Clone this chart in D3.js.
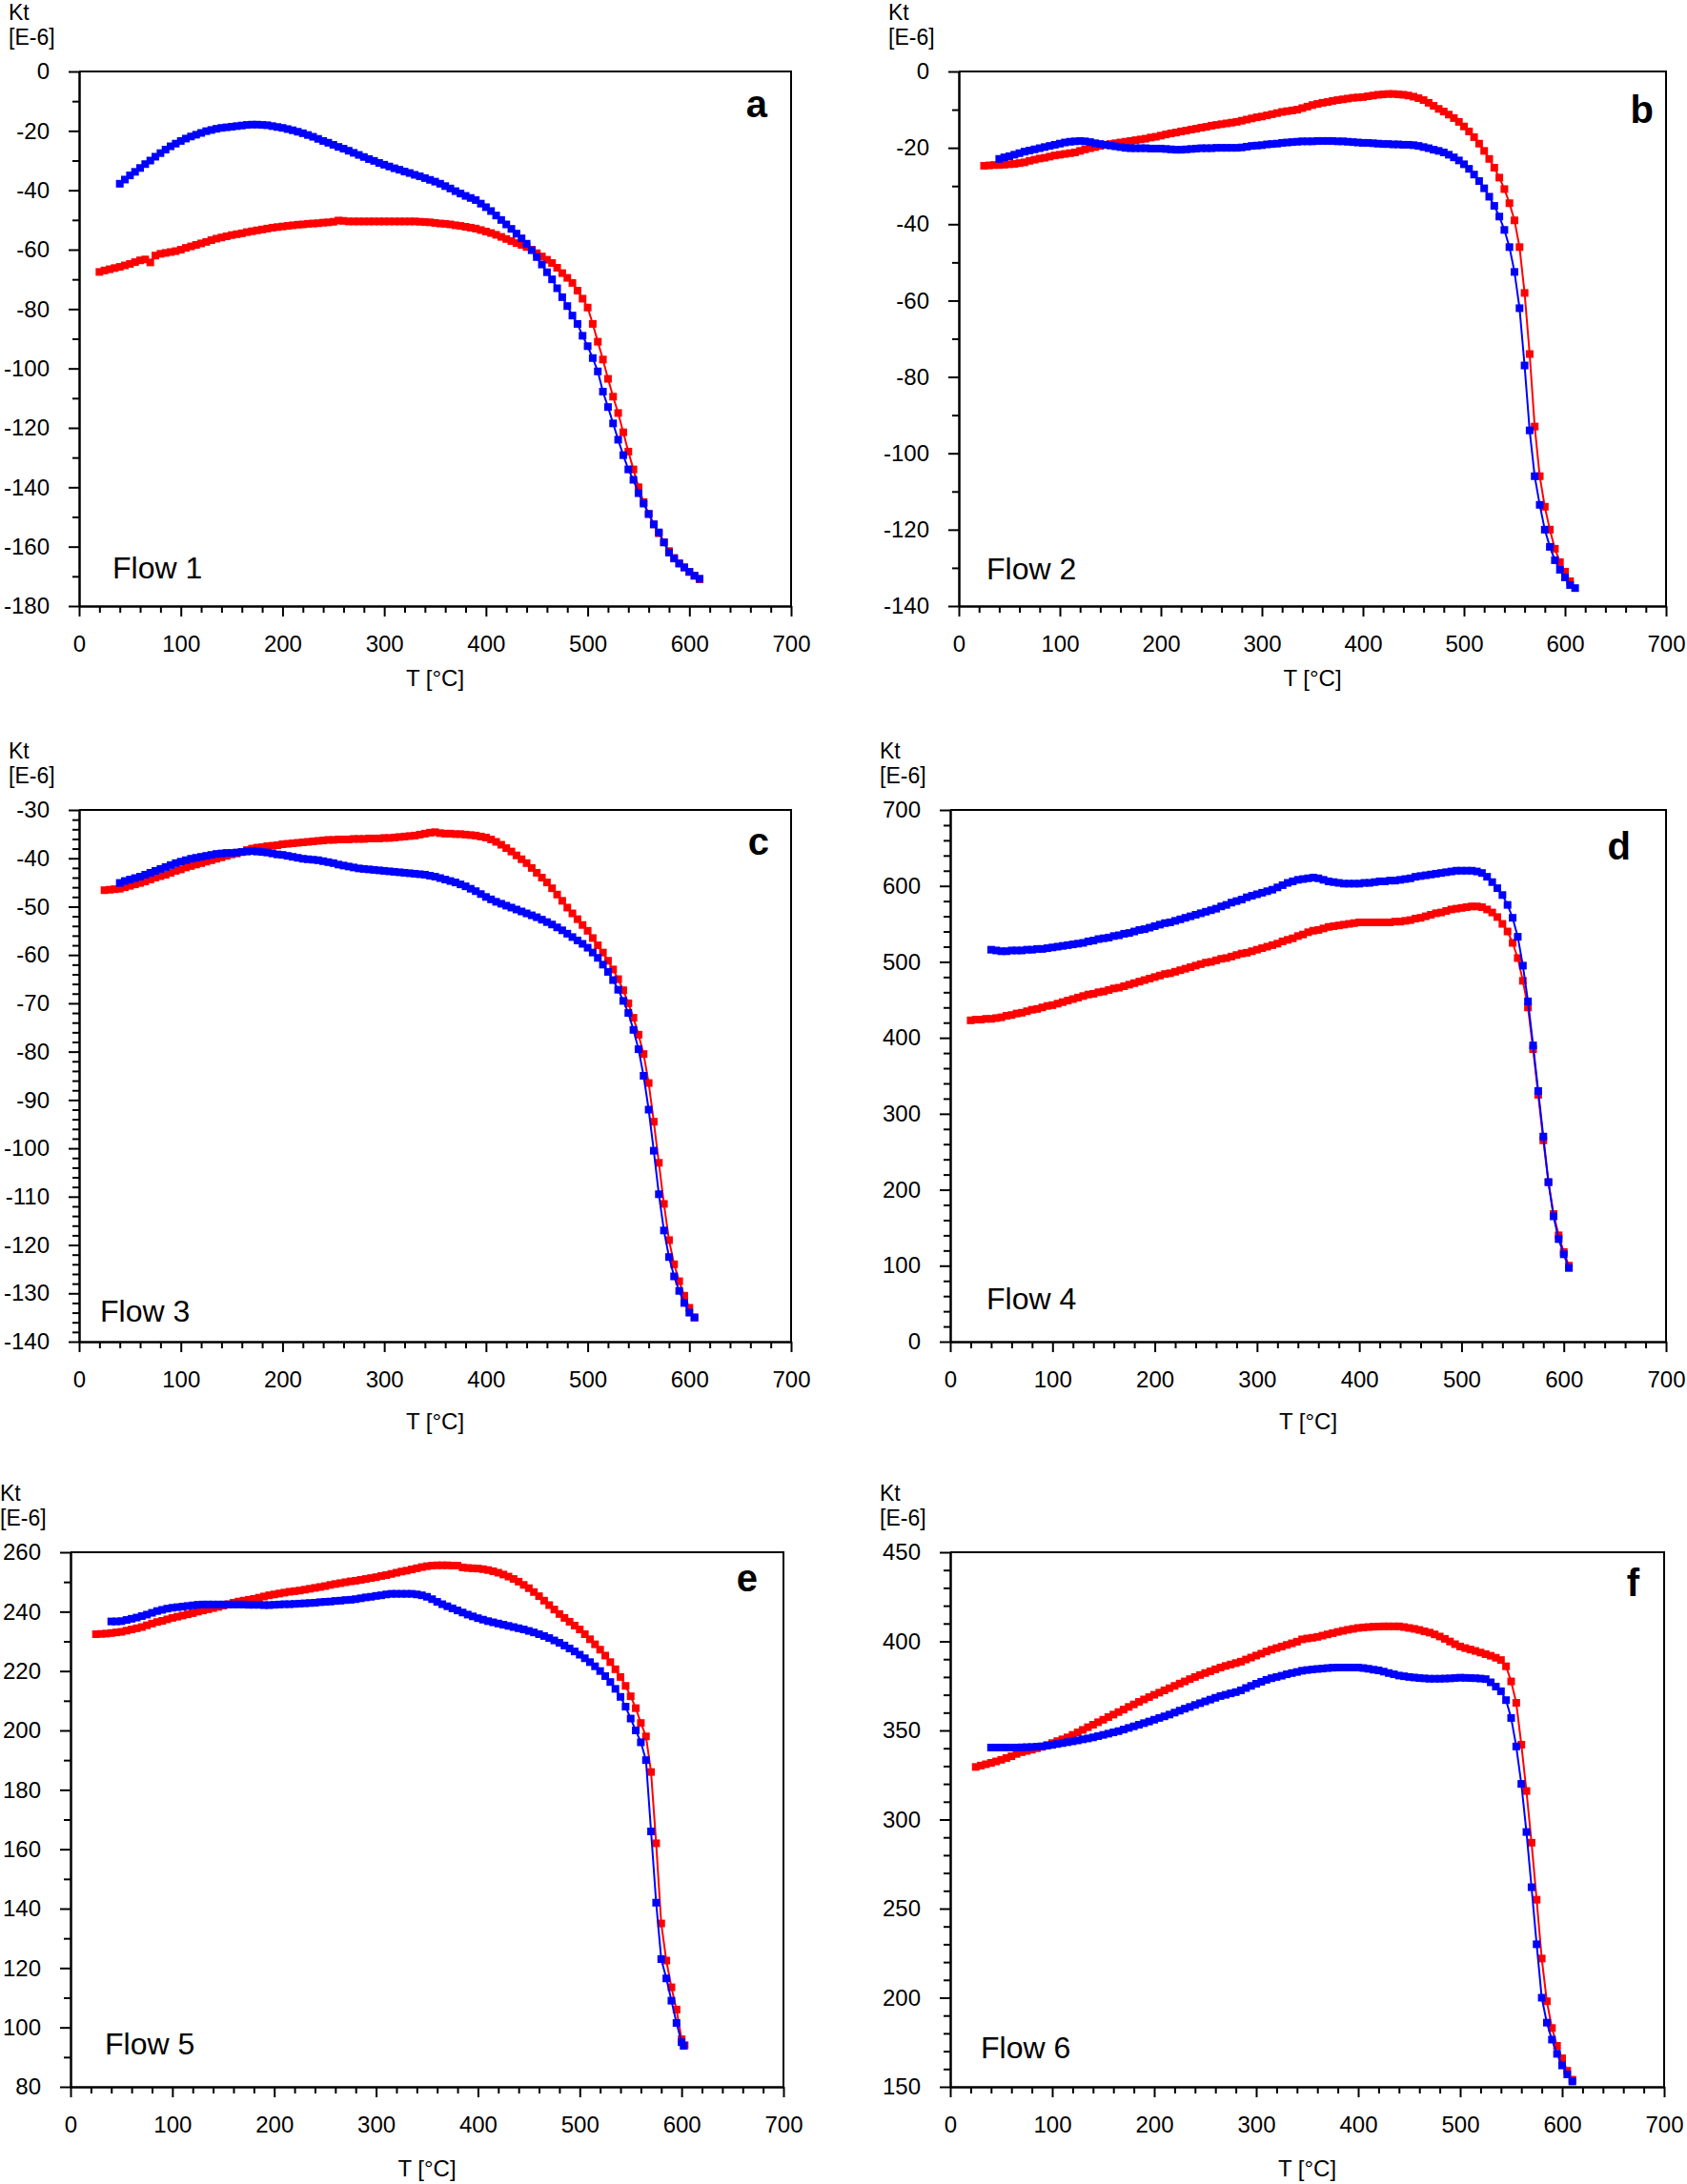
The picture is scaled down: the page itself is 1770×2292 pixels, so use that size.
<!DOCTYPE html>
<html><head><meta charset="utf-8">
<script src="https://cdn.jsdelivr.net/npm/d3@7"></script>
<style>body{margin:0;background:#fff}</style>
</head><body><svg id="chart" width="1770" height="2292" style="display:block;background:#fff"></svg>
<script>
// ---------- text / ticks ----------
const xTicks = [0,100,200,300,400,500,600,700];
const yTicksA = [-180,-160,-140,-120,-100,-80,-60,-40,-20,0];
const yTicksB = [-140,-120,-100,-80,-60,-40,-20,0];
const yTicksC = [-140,-130,-120,-110,-100,-90,-80,-70,-60,-50,-40,-30];
const yTicksD = [0,100,200,300,400,500,600,700];
const yTicksE = [80,100,120,140,160,180,200,220,240,260];
const yTicksF = [150,200,250,300,350,400,450];
const panelLetters = ['a','b','c','d','e','f'];
const flowLabels = ['Flow 1','Flow 2','Flow 3','Flow 4','Flow 5','Flow 6'];
const yTitleTop = 'Kt', yTitleBottom = '[E-6]', xTitle = 'T [°C]';

// ---------- data: [T, Kt] ----------
const a_red = [[20,-67.5],[25,-67.0],[30,-66.6],[35,-66.2],[40,-65.8],[45,-65.3],[50,-64.8],[55,-64.2],[60,-63.6],[65,-63.3],[70,-64.3],[75,-62.0],[80,-61.4],[85,-61.1],[90,-60.8],[95,-60.5],[100,-60.0],[105,-59.4],[110,-58.9],[115,-58.4],[120,-57.9],[125,-57.4],[130,-56.8],[135,-56.3],[140,-55.9],[145,-55.5],[150,-55.1],[155,-54.8],[160,-54.5],[165,-54.1],[170,-53.8],[175,-53.5],[180,-53.2],[185,-52.9],[190,-52.6],[195,-52.4],[200,-52.2],[205,-52.0],[210,-51.8],[215,-51.6],[220,-51.5],[225,-51.3],[230,-51.2],[235,-51.1],[240,-50.9],[245,-50.8],[250,-50.6],[255,-50.2],[260,-50.3],[265,-50.5],[270,-50.5],[275,-50.5],[280,-50.5],[285,-50.5],[290,-50.5],[295,-50.5],[300,-50.5],[305,-50.5],[310,-50.5],[315,-50.5],[320,-50.5],[325,-50.5],[330,-50.5],[335,-50.6],[340,-50.7],[345,-50.8],[350,-51.0],[355,-51.2],[360,-51.3],[365,-51.5],[370,-51.8],[375,-52.0],[380,-52.3],[385,-52.6],[390,-52.9],[395,-53.4],[400,-53.9],[405,-54.4],[410,-55.0],[415,-55.7],[420,-56.4],[425,-57.1],[430,-57.8],[435,-58.4],[440,-59.1],[445,-60.0],[450,-61.2],[455,-62.3],[460,-63.4],[465,-64.5],[470,-66.1],[475,-67.9],[480,-69.5],[485,-71.2],[490,-73.8],[495,-76.5],[500,-79.5],[505,-85.0],[510,-91.0],[515,-97.0],[520,-103.5],[525,-109.5],[530,-115.0],[535,-121.5],[540,-128.0],[545,-134.0],[550,-140.0],[555,-145.0],[560,-149.0],[565,-152.5],[570,-155.5],[575,-158.5],[580,-161.5],[585,-163.8],[590,-165.6],[595,-167.0],[600,-168.5],[605,-169.8],[610,-171.0]];
const a_blue = [[40,-37.8],[45,-36.4],[50,-35.0],[55,-33.8],[60,-32.5],[65,-31.2],[70,-30.0],[75,-28.7],[80,-27.5],[85,-26.3],[90,-25.2],[95,-24.3],[100,-23.4],[105,-22.6],[110,-21.9],[115,-21.3],[120,-20.7],[125,-20.1],[130,-19.7],[135,-19.3],[140,-19.0],[145,-18.8],[150,-18.6],[155,-18.4],[160,-18.2],[165,-18.0],[170,-17.9],[175,-17.9],[180,-18.0],[185,-18.1],[190,-18.4],[195,-18.7],[200,-19.0],[205,-19.4],[210,-19.8],[215,-20.3],[220,-20.8],[225,-21.4],[230,-22.0],[235,-22.7],[240,-23.4],[245,-24.0],[250,-24.7],[255,-25.4],[260,-26.0],[265,-26.7],[270,-27.4],[275,-28.1],[280,-28.8],[285,-29.5],[290,-30.1],[295,-30.8],[300,-31.4],[305,-32.0],[310,-32.6],[315,-33.1],[320,-33.7],[325,-34.2],[330,-34.8],[335,-35.3],[340,-35.9],[345,-36.5],[350,-37.1],[355,-37.8],[360,-38.6],[365,-39.4],[370,-40.3],[375,-41.1],[380,-41.9],[385,-42.6],[390,-43.3],[395,-44.5],[400,-45.7],[405,-47.0],[410,-48.5],[415,-50.0],[420,-51.5],[425,-53.0],[430,-54.6],[435,-56.2],[440,-58.0],[445,-60.2],[450,-62.5],[455,-65.0],[460,-67.6],[465,-70.0],[470,-73.0],[475,-76.0],[480,-79.0],[485,-82.2],[490,-85.0],[495,-89.0],[500,-92.5],[505,-96.5],[510,-101.0],[515,-107.8],[520,-113.0],[525,-118.5],[530,-124.0],[535,-129.2],[540,-134.0],[545,-137.5],[550,-142.0],[555,-145.5],[560,-149.0],[565,-152.5],[570,-155.2],[575,-158.6],[580,-162.0],[585,-164.0],[590,-165.7],[595,-167.0],[600,-168.5],[605,-169.8],[610,-170.8]];

const b_red = [[25,-24.7],[30,-24.6],[35,-24.5],[40,-24.5],[45,-24.4],[50,-24.3],[55,-24.2],[60,-24.0],[65,-23.8],[70,-23.4],[75,-23.1],[80,-22.8],[85,-22.6],[90,-22.3],[95,-22.0],[100,-21.8],[105,-21.6],[110,-21.4],[115,-21.2],[120,-20.8],[125,-20.4],[130,-20.1],[135,-19.8],[140,-19.5],[145,-19.2],[150,-19.0],[155,-18.8],[160,-18.6],[165,-18.4],[170,-18.2],[175,-18.0],[180,-17.8],[185,-17.6],[190,-17.3],[195,-17.1],[200,-16.8],[205,-16.5],[210,-16.2],[215,-16.0],[220,-15.7],[225,-15.5],[230,-15.2],[235,-15.0],[240,-14.7],[245,-14.5],[250,-14.2],[255,-14.0],[260,-13.8],[265,-13.6],[270,-13.4],[275,-13.2],[280,-12.9],[285,-12.6],[290,-12.3],[295,-12.0],[300,-11.8],[305,-11.5],[310,-11.2],[315,-10.9],[320,-10.6],[325,-10.4],[330,-10.2],[335,-10.0],[340,-9.6],[345,-9.2],[350,-8.8],[355,-8.5],[360,-8.2],[365,-8.0],[370,-7.7],[375,-7.5],[380,-7.3],[385,-7.1],[390,-6.9],[395,-6.8],[400,-6.7],[405,-6.5],[410,-6.3],[415,-6.1],[420,-6.0],[425,-5.9],[430,-5.9],[435,-6.0],[440,-6.1],[445,-6.3],[450,-6.6],[455,-7.0],[460,-7.5],[465,-8.2],[470,-9.0],[475,-9.8],[480,-10.5],[485,-11.3],[490,-12.2],[495,-13.2],[500,-14.4],[505,-15.7],[510,-17.2],[515,-18.9],[520,-20.8],[525,-22.9],[530,-25.2],[535,-27.8],[540,-30.8],[545,-34.5],[550,-39.0],[555,-46.0],[560,-58.0],[565,-74.0],[570,-93.0],[575,-106.0],[580,-114.0],[585,-120.0],[590,-125.0],[595,-128.5],[600,-131.0],[605,-133.5]];
const b_blue = [[40,-22.9],[45,-22.5],[50,-22.2],[55,-21.8],[60,-21.4],[65,-21.0],[70,-20.7],[75,-20.4],[80,-20.1],[85,-19.8],[90,-19.5],[95,-19.2],[100,-18.9],[105,-18.6],[110,-18.4],[115,-18.3],[120,-18.2],[125,-18.3],[130,-18.5],[135,-18.8],[140,-19.0],[145,-19.2],[150,-19.4],[155,-19.6],[160,-19.8],[165,-20.0],[170,-20.1],[175,-20.1],[180,-20.1],[185,-20.1],[190,-20.2],[195,-20.2],[200,-20.2],[205,-20.3],[210,-20.4],[215,-20.5],[220,-20.5],[225,-20.4],[230,-20.3],[235,-20.2],[240,-20.1],[245,-20.1],[250,-20.1],[255,-20.0],[260,-20.0],[265,-20.0],[270,-20.0],[275,-20.0],[280,-19.9],[285,-19.7],[290,-19.5],[295,-19.4],[300,-19.3],[305,-19.1],[310,-19.0],[315,-18.9],[320,-18.7],[325,-18.6],[330,-18.5],[335,-18.4],[340,-18.3],[345,-18.3],[350,-18.3],[355,-18.2],[360,-18.2],[365,-18.2],[370,-18.2],[375,-18.3],[380,-18.3],[385,-18.4],[390,-18.5],[395,-18.6],[400,-18.7],[405,-18.7],[410,-18.8],[415,-18.9],[420,-19.0],[425,-19.0],[430,-19.1],[435,-19.1],[440,-19.2],[445,-19.2],[450,-19.3],[455,-19.5],[460,-19.8],[465,-20.1],[470,-20.5],[475,-20.8],[480,-21.2],[485,-21.8],[490,-22.5],[495,-23.3],[500,-24.3],[505,-25.5],[510,-27.0],[515,-28.7],[520,-30.6],[525,-32.8],[530,-35.2],[535,-38.0],[540,-41.5],[545,-46.0],[550,-52.5],[555,-62.0],[560,-77.0],[565,-94.0],[570,-106.0],[575,-113.5],[580,-120.0],[585,-124.5],[590,-128.0],[595,-130.5],[600,-132.5],[605,-134.5],[610,-135.3]];

const c_red = [[25,-46.6],[30,-46.5],[35,-46.4],[40,-46.3],[45,-46.0],[50,-45.7],[55,-45.4],[60,-45.1],[65,-44.8],[70,-44.4],[75,-44.0],[80,-43.7],[85,-43.4],[90,-43.0],[95,-42.6],[100,-42.3],[105,-41.9],[110,-41.6],[115,-41.3],[120,-41.0],[125,-40.7],[130,-40.4],[135,-40.1],[140,-39.8],[145,-39.5],[150,-39.2],[155,-39.0],[160,-38.7],[165,-38.3],[170,-38.0],[175,-37.8],[180,-37.7],[185,-37.5],[190,-37.4],[195,-37.3],[200,-37.1],[205,-37.0],[210,-36.9],[215,-36.8],[220,-36.7],[225,-36.6],[230,-36.5],[235,-36.4],[240,-36.3],[245,-36.2],[250,-36.2],[255,-36.1],[260,-36.1],[265,-36.1],[270,-36.0],[275,-36.0],[280,-36.0],[285,-35.9],[290,-35.9],[295,-35.9],[300,-35.8],[305,-35.8],[310,-35.7],[315,-35.6],[320,-35.5],[325,-35.4],[330,-35.3],[335,-35.1],[340,-34.9],[345,-34.7],[350,-34.6],[355,-34.8],[360,-34.9],[365,-34.9],[370,-35.0],[375,-35.0],[380,-35.1],[385,-35.2],[390,-35.3],[395,-35.5],[400,-35.7],[405,-36.1],[410,-36.6],[415,-37.2],[420,-37.9],[425,-38.6],[430,-39.4],[435,-40.2],[440,-41.0],[445,-42.0],[450,-43.0],[455,-44.0],[460,-45.0],[465,-46.2],[470,-47.5],[475,-48.8],[480,-50.2],[485,-51.4],[490,-52.6],[495,-53.8],[500,-55.0],[505,-56.5],[510,-58.0],[515,-59.5],[520,-61.2],[525,-63.0],[530,-65.0],[535,-67.3],[540,-70.0],[545,-73.0],[550,-76.5],[555,-80.5],[560,-86.5],[565,-94.5],[570,-103.0],[575,-111.5],[580,-119.0],[585,-124.0],[590,-127.5],[595,-130.5],[600,-133.0],[605,-135.0]];
const c_blue = [[40,-45.1],[45,-44.7],[50,-44.4],[55,-44.1],[60,-43.8],[65,-43.4],[70,-43.0],[75,-42.6],[80,-42.2],[85,-41.8],[90,-41.4],[95,-41.0],[100,-40.7],[105,-40.4],[110,-40.1],[115,-39.9],[120,-39.7],[125,-39.5],[130,-39.3],[135,-39.1],[140,-39.0],[145,-38.9],[150,-38.9],[155,-38.8],[160,-38.7],[165,-38.6],[170,-38.5],[175,-38.6],[180,-38.7],[185,-38.8],[190,-39.0],[195,-39.2],[200,-39.3],[205,-39.5],[210,-39.7],[215,-39.9],[220,-40.1],[225,-40.2],[230,-40.3],[235,-40.4],[240,-40.6],[245,-40.8],[250,-41.0],[255,-41.3],[260,-41.5],[265,-41.7],[270,-41.9],[275,-42.1],[280,-42.2],[285,-42.3],[290,-42.4],[295,-42.5],[300,-42.6],[305,-42.7],[310,-42.8],[315,-42.9],[320,-43.0],[325,-43.1],[330,-43.2],[335,-43.3],[340,-43.4],[345,-43.6],[350,-43.8],[355,-44.1],[360,-44.4],[365,-44.7],[370,-45.0],[375,-45.4],[380,-45.8],[385,-46.3],[390,-46.8],[395,-47.4],[400,-48.0],[405,-48.5],[410,-49.0],[415,-49.4],[420,-49.8],[425,-50.2],[430,-50.6],[435,-51.0],[440,-51.4],[445,-51.8],[450,-52.2],[455,-52.7],[460,-53.2],[465,-53.7],[470,-54.3],[475,-54.9],[480,-55.6],[485,-56.3],[490,-57.0],[495,-57.7],[500,-58.5],[505,-59.5],[510,-60.6],[515,-62.0],[520,-63.5],[525,-65.2],[530,-67.2],[535,-69.5],[540,-72.0],[545,-75.5],[550,-79.5],[555,-85.0],[560,-92.0],[565,-100.5],[570,-109.5],[575,-117.0],[580,-122.5],[585,-126.5],[590,-129.5],[595,-132.0],[600,-134.0],[605,-135.0]];

const d_red = [[20,423],[25,424],[30,424],[35,425],[40,425],[45,426],[50,427],[55,429],[60,430],[65,432],[70,433],[75,435],[80,437],[85,438],[90,440],[95,442],[100,443],[105,445],[110,447],[115,449],[120,451],[125,453],[130,455],[135,457],[140,458],[145,460],[150,461],[155,463],[160,465],[165,466],[170,468],[175,470],[180,472],[185,474],[190,476],[195,478],[200,480],[205,482],[210,484],[215,485],[220,487],[225,489],[230,491],[235,493],[240,495],[245,497],[250,499],[255,500],[260,502],[265,504],[270,505],[275,507],[280,509],[285,511],[290,512],[295,514],[300,516],[305,518],[310,520],[315,522],[320,524],[325,527],[330,529],[335,531],[340,534],[345,536],[350,539],[355,541],[360,542],[365,544],[370,546],[375,547],[380,548],[385,549],[390,550],[395,551],[400,552],[405,552],[410,552],[415,552],[420,552],[425,552],[430,552],[435,553],[440,553],[445,554],[450,555],[455,557],[460,558],[465,560],[470,562],[475,564],[480,565],[485,567],[490,569],[495,570],[500,571],[505,572],[510,573],[515,573],[520,572],[525,569],[530,565],[535,559],[540,550],[545,540],[550,525],[555,505],[560,475],[565,440],[570,385],[575,325],[580,265],[585,210],[590,168],[595,140],[600,118],[605,100]];
const d_blue = [[40,516],[45,515],[50,514],[55,514],[60,515],[65,515],[70,515],[75,516],[80,516],[85,517],[90,517],[95,518],[100,519],[105,520],[110,521],[115,522],[120,523],[125,524],[130,525],[135,527],[140,528],[145,530],[150,531],[155,532],[160,534],[165,535],[170,537],[175,538],[180,540],[185,542],[190,543],[195,545],[200,547],[205,549],[210,551],[215,552],[220,554],[225,556],[230,558],[235,560],[240,562],[245,564],[250,566],[255,568],[260,570],[265,573],[270,575],[275,578],[280,580],[285,582],[290,585],[295,587],[300,589],[305,591],[310,593],[315,595],[320,598],[325,601],[330,604],[335,606],[340,608],[345,609],[350,610],[355,611],[360,610],[365,608],[370,606],[375,605],[380,604],[385,603],[390,603],[395,603],[400,603],[405,604],[410,604],[415,605],[420,606],[425,606],[430,607],[435,607],[440,608],[445,609],[450,610],[455,612],[460,613],[465,614],[470,615],[475,616],[480,617],[485,618],[490,619],[495,620],[500,620],[505,620],[510,620],[515,619],[520,617],[525,612],[530,605],[535,597],[540,588],[545,575],[550,558],[555,533],[560,495],[565,448],[570,390],[575,330],[580,270],[585,210],[590,165],[595,135],[600,115],[605,97]];

const e_red = [[25,232.4],[30,232.5],[35,232.6],[40,232.8],[45,233.0],[50,233.2],[55,233.6],[60,234.0],[65,234.4],[70,234.8],[75,235.4],[80,236.0],[85,236.5],[90,236.9],[95,237.4],[100,237.9],[105,238.3],[110,238.7],[115,239.1],[120,239.5],[125,240.0],[130,240.4],[135,240.8],[140,241.2],[145,241.6],[150,242.0],[155,242.5],[160,243.0],[165,243.4],[170,243.7],[175,244.0],[180,244.3],[185,244.7],[190,245.1],[195,245.5],[200,245.8],[205,246.1],[210,246.4],[215,246.7],[220,246.9],[225,247.1],[230,247.4],[235,247.7],[240,248.0],[245,248.3],[250,248.6],[255,249.0],[260,249.3],[265,249.6],[270,249.9],[275,250.2],[280,250.4],[285,250.7],[290,251.0],[295,251.3],[300,251.6],[305,252.0],[310,252.3],[315,252.7],[320,253.1],[325,253.5],[330,253.8],[335,254.2],[340,254.6],[345,255.0],[350,255.3],[355,255.5],[360,255.6],[365,255.6],[370,255.6],[375,255.5],[380,255.5],[385,254.9],[390,254.7],[395,254.6],[400,254.5],[405,254.3],[410,254.0],[415,253.6],[420,253.1],[425,252.5],[430,251.8],[435,251.0],[440,250.1],[445,249.0],[450,247.9],[455,246.6],[460,245.2],[465,243.7],[470,242.2],[475,240.7],[480,239.2],[485,237.9],[490,236.6],[495,235.3],[500,234.0],[505,232.4],[510,230.7],[515,229.0],[520,227.2],[525,225.2],[530,223.0],[535,220.6],[540,218.0],[545,215.0],[550,211.5],[555,207.5],[560,202.5],[565,198.0],[570,186.0],[575,162.0],[580,135.0],[585,122.5],[590,113.5],[595,106.0],[600,96.0],[603,94.0]];
const e_blue = [[40,236.7],[45,236.7],[50,236.8],[55,237.2],[60,237.6],[65,238.0],[70,238.5],[75,239.0],[80,239.6],[85,240.2],[90,240.6],[95,241.0],[100,241.3],[105,241.5],[110,241.7],[115,241.9],[120,242.1],[125,242.3],[130,242.4],[135,242.4],[140,242.4],[145,242.4],[150,242.4],[155,242.4],[160,242.4],[165,242.4],[170,242.4],[175,242.3],[180,242.3],[185,242.3],[190,242.2],[195,242.2],[200,242.3],[205,242.4],[210,242.5],[215,242.5],[220,242.6],[225,242.7],[230,242.8],[235,242.9],[240,243.0],[245,243.2],[250,243.3],[255,243.4],[260,243.6],[265,243.7],[270,243.9],[275,244.0],[280,244.2],[285,244.5],[290,244.8],[295,245.0],[300,245.3],[305,245.5],[310,245.8],[315,246.0],[320,246.0],[325,246.0],[330,246.0],[335,246.0],[340,245.8],[345,245.5],[350,245.0],[355,244.2],[360,243.3],[365,242.5],[370,241.8],[375,241.1],[380,240.4],[385,239.7],[390,239.0],[395,238.4],[400,237.8],[405,237.3],[410,236.8],[415,236.4],[420,236.0],[425,235.6],[430,235.2],[435,234.8],[440,234.4],[445,234.0],[450,233.5],[455,233.0],[460,232.4],[465,231.8],[470,231.1],[475,230.3],[480,229.5],[485,228.6],[490,227.6],[495,226.6],[500,225.5],[505,224.3],[510,223.0],[515,221.6],[520,220.0],[525,218.3],[530,216.3],[535,214.0],[540,211.3],[545,208.0],[550,204.0],[555,200.0],[560,196.0],[565,190.0],[570,166.0],[575,142.0],[580,123.0],[585,116.5],[590,109.0],[595,101.5],[600,95.0],[602,93.8]];

const f_red = [[25,329.5],[30,330.3],[35,331.0],[40,331.8],[45,332.6],[50,333.5],[55,334.5],[60,335.5],[65,336.8],[70,337.8],[75,338.5],[80,339.2],[85,340.0],[90,340.8],[95,341.8],[100,342.9],[105,344.0],[110,345.0],[115,346.1],[120,347.5],[125,348.9],[130,350.3],[135,351.8],[140,353.2],[145,354.6],[150,356.0],[155,357.5],[160,358.9],[165,360.3],[170,361.7],[175,363.2],[180,364.6],[185,366.0],[190,367.4],[195,368.7],[200,370.0],[205,371.2],[210,372.5],[215,373.7],[220,375.0],[225,376.3],[230,377.5],[235,378.8],[240,380.0],[245,381.1],[250,382.2],[255,383.2],[260,384.3],[265,385.3],[270,386.2],[275,387.0],[280,387.8],[285,388.6],[290,389.8],[295,390.9],[300,392.0],[305,393.1],[310,394.3],[315,395.3],[320,396.2],[325,397.1],[330,398.0],[335,398.9],[340,399.8],[345,401.1],[350,401.6],[355,402.0],[360,402.5],[365,403.2],[370,403.9],[375,404.6],[380,405.3],[385,405.9],[390,406.5],[395,407.0],[400,407.5],[405,407.8],[410,408.0],[415,408.2],[420,408.3],[425,408.4],[430,408.4],[435,408.4],[440,408.4],[445,408.0],[450,407.5],[455,407.0],[460,406.4],[465,405.6],[470,404.9],[475,403.9],[480,402.7],[485,401.4],[490,399.9],[495,398.4],[500,397.1],[505,396.2],[510,395.4],[515,394.6],[520,393.7],[525,392.8],[530,391.9],[535,390.8],[540,389.5],[545,386.0],[550,377.5],[555,365.5],[560,342.0],[565,316.0],[570,287.0],[575,255.0],[580,222.0],[585,198.0],[590,183.0],[595,173.0],[600,166.0],[605,159.0],[610,154.0]];
const f_blue = [[40,340.4],[45,340.4],[50,340.4],[55,340.4],[60,340.4],[65,340.4],[70,340.5],[75,340.6],[80,340.7],[85,340.9],[90,341.1],[95,341.5],[100,341.9],[105,342.4],[110,342.9],[115,343.4],[120,343.9],[125,344.4],[130,345.0],[135,345.5],[140,346.1],[145,346.8],[150,347.5],[155,348.2],[160,348.9],[165,349.6],[170,350.5],[175,351.4],[180,352.3],[185,353.2],[190,354.1],[195,355.0],[200,356.0],[205,357.0],[210,357.9],[215,358.9],[220,360.0],[225,361.1],[230,362.2],[235,363.2],[240,364.3],[245,365.3],[250,366.3],[255,367.3],[260,368.3],[265,369.3],[270,370.0],[275,370.8],[280,371.5],[285,372.5],[290,373.8],[295,375.0],[300,376.2],[305,377.3],[310,378.4],[315,379.3],[320,380.0],[325,380.7],[330,381.5],[335,382.2],[340,382.8],[345,383.5],[350,383.9],[355,384.2],[360,384.5],[365,384.7],[370,385.0],[375,385.2],[380,385.3],[385,385.3],[390,385.3],[395,385.3],[400,385.3],[405,385.0],[410,384.6],[415,384.1],[420,383.7],[425,383.0],[430,382.2],[435,381.5],[440,380.8],[445,380.4],[450,380.0],[455,379.7],[460,379.4],[465,379.2],[470,379.0],[475,379.0],[480,379.0],[485,379.1],[490,379.2],[495,379.4],[500,379.6],[505,379.5],[510,379.4],[515,379.3],[520,379.1],[525,378.8],[530,377.0],[535,374.6],[540,372.0],[545,367.0],[550,357.0],[555,341.0],[560,320.0],[565,293.0],[570,262.0],[575,230.0],[580,200.0],[585,186.0],[590,176.5],[595,168.5],[600,162.0],[605,157.0],[610,153.0]];

const redSeries  = [a_red, b_red, c_red, d_red, e_red, f_red];
const blueSeries = [a_blue, b_blue, c_blue, d_blue, e_blue, f_blue];
const yTickSets  = [yTicksA, yTicksB, yTicksC, yTicksD, yTicksE, yTicksF];

// ---------- layout (pixels) ----------
const layout = [
  {L:83,  R:830,  T:75,   B:636,  minor:10, flowDx:35, flowDy:-29, letDx:-25, letDy:48, titleDy:84},
  {L:1006,R:1748, T:75,   B:636,  minor:10, flowDx:29, flowDy:-28, letDx:-13, letDy:54, titleDy:84},
  {L:83,  R:830,  T:850,  B:1408, minor:2,  flowDx:22, flowDy:-21, letDx:-23, letDy:47, titleDy:92},
  {L:997, R:1748, T:850,  B:1408, minor:20, flowDx:38, flowDy:-34, letDx:-37, letDy:52, titleDy:92},
  {L:74,  R:822,  T:1629, B:2190, minor:10, flowDx:36, flowDy:-34, letDx:-27, letDy:41, titleDy:94},
  {L:997, R:1746, T:1629, B:2190, minor:10, flowDx:32, flowDy:-30, letDx:-26, letDy:46, titleDy:94}
];
const FONT = '"Liberation Sans", Arial, Helvetica, sans-serif';
const RED = '#ff0000', BLUE = '#0000ff';

const svg = d3.select('#chart');

layout.forEach((lay, i) => {
  const yt = yTickSets[i];
  const x = d3.scaleLinear().domain([xTicks[0], xTicks[xTicks.length-1]]).range([lay.L, lay.R]);
  const y = d3.scaleLinear().domain([yt[0], yt[yt.length-1]]).range([lay.B, lay.T]);
  const g = svg.append('g');

  // frame (top + right)
  g.append('path')
    .attr('d', `M${lay.L},${lay.T}H${lay.R}V${lay.B}`)
    .attr('fill','none').attr('stroke','#000').attr('stroke-width',2);

  const xMinor = d3.range(xTicks[0], xTicks[xTicks.length-1], 20).filter(v => !xTicks.includes(v));
  const yMinor = d3.range(yt[0], yt[yt.length-1], lay.minor).filter(v => !yt.includes(v));

  const styleAxis = sel => {
    sel.selectAll('path.domain').attr('stroke','#000').attr('stroke-width',2);
    sel.selectAll('.tick line').attr('stroke','#000').attr('stroke-width',2);
    sel.selectAll('.tick text').attr('fill','#000').attr('font-size',24).attr('font-family',FONT);
  };

  g.append('g').attr('transform',`translate(0,${lay.B})`)
    .call(d3.axisBottom(x).tickValues(xMinor).tickSize(7).tickSizeOuter(0).tickFormat(''))
    .call(styleAxis);
  g.append('g').attr('transform',`translate(${lay.L},0)`)
    .call(d3.axisLeft(y).tickValues(yMinor).tickSize(7).tickSizeOuter(0).tickFormat(''))
    .call(styleAxis);
  g.append('g').attr('transform',`translate(0,${lay.B})`)
    .call(d3.axisBottom(x).tickValues(xTicks).tickSize(11).tickSizeOuter(0).tickPadding(20).tickFormat(d3.format('d')))
    .call(styleAxis);
  g.append('g').attr('transform',`translate(${lay.L},0)`)
    .call(d3.axisLeft(y).tickValues(yt).tickSize(11).tickSizeOuter(0).tickPadding(20).tickFormat(d => d < 0 ? '-' + Math.abs(d) : String(d)))
    .call(styleAxis);

  // titles
  g.append('text').attr('x', lay.L - 74).attr('y', lay.T - 54).text(yTitleTop)
    .attr('font-family',FONT).attr('font-size',23).attr('fill','#000');
  g.append('text').attr('x', lay.L - 74).attr('y', lay.T - 28).text(yTitleBottom)
    .attr('font-family',FONT).attr('font-size',23).attr('fill','#000');
  g.append('text').attr('x', (lay.L + lay.R)/2).attr('y', lay.B + lay.titleDy).text(xTitle)
    .attr('text-anchor','middle').attr('font-family',FONT).attr('font-size',24).attr('fill','#000');
  g.append('text').attr('x', lay.R + lay.letDx).attr('y', lay.T + lay.letDy).text(panelLetters[i])
    .attr('text-anchor','end').attr('font-family',FONT).attr('font-weight','bold').attr('font-size',40).attr('fill','#000');
  g.append('text').attr('x', lay.L + lay.flowDx).attr('y', lay.B + lay.flowDy).text(flowLabels[i])
    .attr('font-family',FONT).attr('font-size',32).attr('fill','#000');

  // series (red first, blue on top)
  const line = d3.line().x(d => x(d[0])).y(d => y(d[1]));
  [[redSeries[i], RED], [blueSeries[i], BLUE]].forEach(([data, col]) => {
    g.append('path').datum(data).attr('d', line)
      .attr('fill','none').attr('stroke',col).attr('stroke-width',2);
    g.append('g').selectAll('rect').data(data).join('rect')
      .attr('x', d => x(d[0]) - 4).attr('y', d => y(d[1]) - 4)
      .attr('width', 8).attr('height', 8).attr('fill', col);
  });
});
</script>
</body></html>
